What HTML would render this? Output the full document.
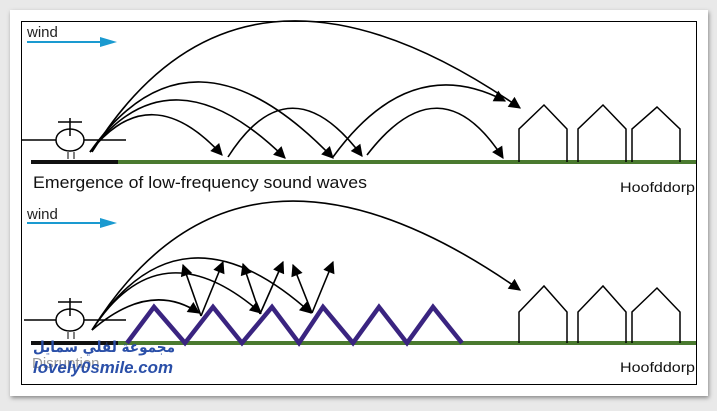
<!DOCTYPE html>
<html><head><style>
body{margin:0;width:717px;height:406px;background:#e9e9e9;overflow:hidden;font-family:"Liberation Sans",sans-serif}
</style></head><body>
<svg width="717" height="406" viewBox="0 0 717 406" xmlns="http://www.w3.org/2000/svg">
<defs>
<marker id="ah" viewBox="0 0 10 10" refX="9" refY="5" markerWidth="14" markerHeight="12" orient="auto" markerUnits="userSpaceOnUse"><path d="M0,0L10,5L0,10z" fill="#000"/></marker>
<filter id="sh"><feDropShadow dx="1" dy="2" stdDeviation="2" flood-color="#888"/></filter>
</defs>
<rect x="10" y="10" width="698" height="386" fill="#fff" filter="url(#sh)"/>
<rect x="21.5" y="21.5" width="675" height="363" fill="#fff" stroke="#000" stroke-width="1"/>
<g font-family="Liberation Sans, sans-serif">
<!-- top panel -->
<text x="27" y="37" font-size="15" fill="#222">wind</text>
<line x1="27" y1="42" x2="102" y2="42" stroke="#1a9ad0" stroke-width="2"/>
<path d="M100,37L117,42L100,47z" fill="#1a9ad0"/>
<line x1="21" y1="140" x2="126" y2="140" stroke="#000" stroke-width="1.5"/>
<ellipse cx="70" cy="140" rx="14" ry="11" fill="#fff" stroke="#000" stroke-width="1.5"/>
<line x1="70" y1="118" x2="70" y2="136" stroke="#000" stroke-width="1.5"/>
<line x1="58" y1="122" x2="82" y2="122" stroke="#000" stroke-width="1.5"/>
<line x1="68" y1="152" x2="68" y2="159" stroke="#000"/><line x1="74" y1="152" x2="74" y2="159" stroke="#000"/>
<line x1="31" y1="162" x2="118" y2="162" stroke="#111" stroke-width="4"/>
<line x1="118" y1="162" x2="696" y2="162" stroke="#4a7a2f" stroke-width="4"/>
<g fill="none" stroke="#000" stroke-width="1.6">
<path d="M90,152 Q150,76 222,155" marker-end="url(#ah)"/>
<path d="M90,152 Q170,45 285,158" marker-end="url(#ah)"/>
<path d="M90,152 Q190,9 333,158" marker-end="url(#ah)"/>
<path d="M92,152 Q240,-86 520,108" marker-end="url(#ah)"/>
<path d="M228,157 Q290,60 362,156" marker-end="url(#ah)"/>
<path d="M333,157 Q410,51 505,101" marker-end="url(#ah)"/>
<path d="M367,155 Q440,60 503,158" marker-end="url(#ah)"/>
<path d="M519,162V129L544,105L567,129V162M578,162V129L603,105L626,129V162M632,162V129L657,107L680,129V162" stroke-width="1.5"/>
</g>
<text x="33" y="188" font-size="17" fill="#111" textLength="334" lengthAdjust="spacingAndGlyphs">Emergence of low-frequency sound waves</text>
<text x="620" y="192" font-size="14" fill="#111" textLength="75" lengthAdjust="spacingAndGlyphs">Hoofddorp</text>
<!-- bottom panel -->
<text x="27" y="219" font-size="15" fill="#222">wind</text>
<line x1="27" y1="223" x2="102" y2="223" stroke="#1a9ad0" stroke-width="2"/>
<path d="M100,218L117,223L100,228z" fill="#1a9ad0"/>
<line x1="24" y1="320" x2="126" y2="320" stroke="#000" stroke-width="1.5"/>
<ellipse cx="70" cy="320" rx="14" ry="11" fill="#fff" stroke="#000" stroke-width="1.5"/>
<line x1="70" y1="298" x2="70" y2="316" stroke="#000" stroke-width="1.5"/>
<line x1="58" y1="302" x2="82" y2="302" stroke="#000" stroke-width="1.5"/>
<line x1="68" y1="332" x2="68" y2="339" stroke="#000"/><line x1="74" y1="332" x2="74" y2="339" stroke="#000"/>
<line x1="31" y1="343" x2="118" y2="343" stroke="#111" stroke-width="4"/>
<line x1="118" y1="343" x2="696" y2="343" stroke="#4a7a2f" stroke-width="4"/>
<path d="M127,343L154,307L185,343L213,307L242,343L272,307L299,343L323,307L353,343L379,307L407,343L433,307L462,343" fill="none" stroke="#3a2480" stroke-width="4.5"/>
<g fill="none" stroke="#000" stroke-width="1.6">
<path d="M92,330 Q150,280 199,313" marker-end="url(#ah)"/>
<path d="M92,330 Q160,225 261,313" marker-end="url(#ah)"/>
<path d="M92,330 Q180,195 311,313" marker-end="url(#ah)"/>
<path d="M92,330 Q240,94 520,290" marker-end="url(#ah)"/>
<path d="M201,316L183,265" marker-end="url(#ah)"/>
<path d="M201,316L223,262" marker-end="url(#ah)"/>
<path d="M260,314L243,264" marker-end="url(#ah)"/>
<path d="M260,314L283,262" marker-end="url(#ah)"/>
<path d="M312,313L293,265" marker-end="url(#ah)"/>
<path d="M312,313L333,262" marker-end="url(#ah)"/>
<path d="M519,343V312L544,286L567,312V343M578,343V312L603,286L626,312V343M632,343V312L657,288L680,312V343" stroke-width="1.5"/>
</g>
<text x="32" y="368" font-size="15" fill="#999">Disruption</text>
<text x="620" y="372" font-size="14" fill="#111" textLength="75" lengthAdjust="spacingAndGlyphs">Hoofddorp</text>
<text x="33" y="352" font-size="15" font-weight="bold" fill="#2a4fa8" textLength="142" lengthAdjust="spacingAndGlyphs" font-family="DejaVu Sans, sans-serif">مجموعة لفلي سمايل</text>
<text x="33" y="373" font-size="17" font-style="italic" font-weight="bold" fill="#2a4fa8" textLength="140" lengthAdjust="spacingAndGlyphs">lovely0smile.com</text>
</g>
</svg>
</body></html>
